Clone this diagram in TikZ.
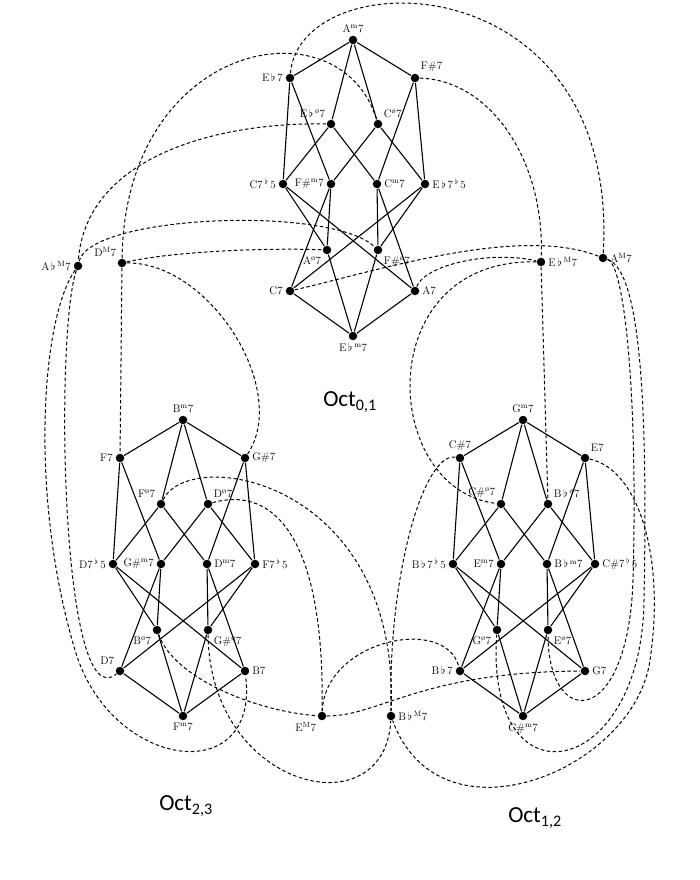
\documentclass[tikz,border=0pt]{standalone}
\usepackage{fontspec}
\usepackage{tikz}
\usetikzlibrary{arrows}
\newfontfamily\octfont{Carlito}
\def\mi{\textsuperscript{m}}
\def\ma{\textsuperscript{M}}
\def\hd{\textsuperscript{ø}}
\def\fl{\,$\flat$\,}
\def\sfl{\,$^\flat$\,}
\tikzset{
	every node/.style={
		font=\fontsize{11}{13}\selectfont
	},
	chord/.style={
		shape=circle,
		fill=black,
		minimum size=8.5pt,
		inner sep=0pt
	},
	lbl/.style={
		inner sep=2pt
	},
	link/.style={
		dash pattern=on 3.5pt off 2.5pt,
		line width=1pt
	},
	octlabel/.style={
		font=\octfont\fontsize{23}{26}\selectfont
	}
}

\begin{document}
\begin{tikzpicture}
	[x=1pt,y=-1pt,line width=1.1pt,label distance=0pt]
	\useasboundingbox (0,0) rectangle (700,880);
	
	\foreach \c/\cx/\cy in {t/353/40,l/183/420,r/523/420}
	\foreach \i/\dx/\dy in {1/0/0,2/-63/38,3/62/38,4/-22/84,5/25/84,6/-70/144,7/-22/144,8/24/144,9/72/144,10/-26/210,11/25/210,12/-63/251,13/62/251,14/0/296}
	\coordinate (\c\i) at (\cx+\dx,\cy+\dy);
	
	\foreach \i/\pos/\txt in {1/90/{A\mi7},2/180/{E\fl7},3/45/{F\#7},4/135/{E\fl\hd7},5/45/{C\hd7},6/180/{C7\sfl5},7/180/{F\#\mi7},8/0/{C\mi7},9/0/{E\fl7\sfl5},10/225/{A\hd7},11/-45/{F\#\hd7},12/180/{C7},13/0/{A7},14/-90/{E\fl\mi7}}
	\node[chord,label={[lbl]\pos:\txt}] (t-\i) at (t\i) {};
	
	\foreach \i/\pos/\txt in {1/90/{B\mi7},2/180/{F7},3/0/{G\#7},4/135/{F\hd7},5/45/{D\hd7},6/180/{D7\sfl5},7/180/{G\#\mi7},8/0/{D\mi7},9/0/{F7\sfl5},10/225/{B\hd7},11/-45/{G\#\hd7},12/135/{D7},13/0/{B7},14/-90/{F\mi7}}
	\node[chord,label={[lbl]\pos:\txt}] (l-\i) at (l\i) {};
	
	\foreach \i/\pos/\txt in {1/90/{G\mi7},2/90/{C\#7},3/45/{E7},4/135/{C\#\hd7},5/45/{B\fl\hd7},6/180/{B\fl7\sfl5},7/180/{E\mi7},8/0/{B\fl\mi7},9/0/{C\#7\sfl5},10/225/{G\hd7},11/-45/{E\hd7},12/180/{B\fl7},13/0/{G7},14/-90/{C\#\mi7}}
	\node[chord,label={[lbl]\pos:\txt}] (r-\i) at (r\i) {};
	
	\node[chord,label={[lbl]180:A\fl\ma7}] (AbM) at (78,266) {};
	\node[chord,label={[lbl]135:D\ma7}] (DM) at (122,263) {};
	\node[chord,label={[lbl]0:E\fl\ma7}] (EbM) at (541,262) {};
	\node[chord,label={[lbl]0:A\ma7}] (AM) at (603,258) {};
	\node[chord,label={[lbl]225:E\ma7}] (EM) at (322,716) {};
	\node[chord,label={[lbl]0:B\fl\ma7}] (BbM) at (391,716) {};
	
	\foreach \c in {t,l,r}
	\foreach \a/\b in {1/2,1/3,1/4,1/5,2/6,2/7,3/8,3/9,4/6,4/8,5/7,5/9,6/10,6/13,7/12,7/10,8/11,8/13,9/12,9/11,10/14,11/14,12/14,13/14}
	\draw (\c-\a) -- (\c-\b);
	
	\draw[link] (t-2) .. controls (300,-40) and (620,-40) .. (AM);
	\draw[link] (DM) .. controls (125,40) and (340,0) .. (t-5);
	\draw[link] (t-4) .. controls (210,122) and (85,160) .. (AbM);
	\draw[link] (AbM) .. controls (90,215) and (330,205) .. (t-11);
	\draw[link] (DM) .. controls (180,250) and (280,248) .. (t-10);
	\draw[link] (t-12) .. controls (380,270) and (520,225) .. (AM);
	\draw[link] (t-13) .. controls (425,265) and (490,250) .. (EbM);
	\draw[link] (t-3) .. controls (490,80) and (545,160) .. (EbM);
	\draw[link] (DM) -- (l-2);
	\draw[link] (DM) .. controls (210,262) and (290,390) .. (l-3);
	\draw[link] (AbM) .. controls (55,330) and (60,720) .. (l-12);
	\draw[link] (AbM) .. controls (40,320) and (30,500) .. (75,650) .. controls (110,770) and (260,790) .. (l-13);
	\draw[link] (l-4) .. controls (190,445) and (400,480) .. (BbM);
	\draw[link] (l-5) .. controls (275,485) and (325,540) .. (EM);
	\draw[link] (l-10) .. controls (175,680) and (260,712) .. (EM);
	\draw[link] (l-11) .. controls (210,790) and (385,830) .. (BbM);
	\draw[link] (EM) .. controls (325,640) and (445,615) .. (r-12);
	\draw[link] (EM) .. controls (380,716) and (420,672) .. (r-13);
	\draw[link] (EbM) .. controls (370,258) and (380,490) .. (r-4);
	\draw[link] (EbM) -- (r-5);
	\draw[link] (r-2) .. controls (425,452) and (388,570) .. (BbM);
	\draw[link] (r-3) .. controls (640,470) and (665,560) .. (650,660) .. controls (635,770) and (440,850) .. (BbM);
	\draw[link] (AM) .. controls (640,270) and (648,400) .. (644,600) .. controls (642,780) and (485,810) .. (r-10);
	\draw[link] (AM) .. controls (625,265) and (638,400) .. (633,580) .. controls (628,730) and (548,730) .. (r-11);
	
	\node[octlabel] (oct01) at (350,402) {Oct\textsubscript{0,1}};
	\node[octlabel] (oct23) at (186,806) {Oct\textsubscript{2,3}};
	\node[octlabel] (oct12) at (535,818) {Oct\textsubscript{1,2}};
\end{tikzpicture}
\end{document}
